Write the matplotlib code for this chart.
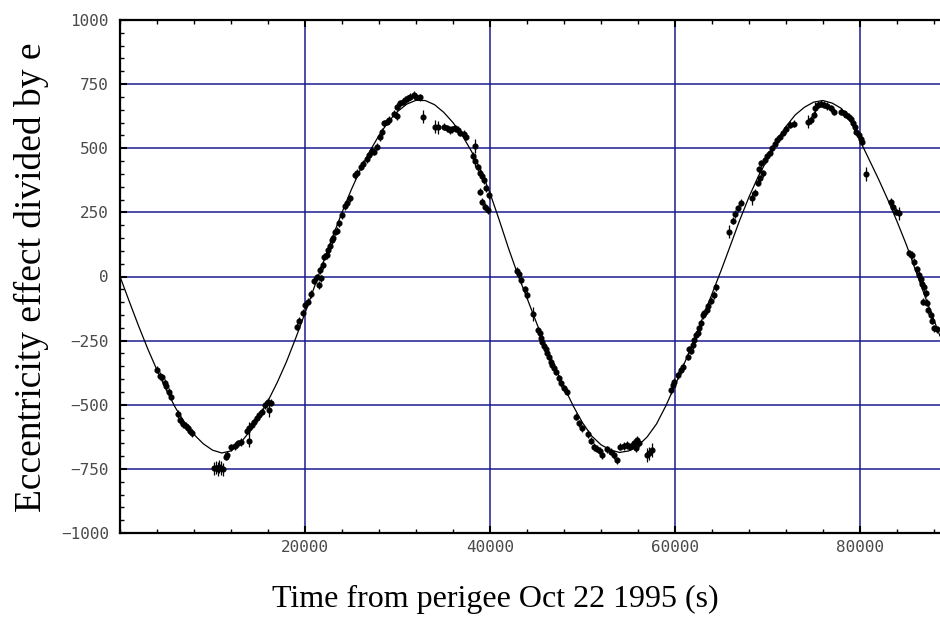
import matplotlib
matplotlib.use("Agg")
import matplotlib.pyplot as plt
from matplotlib.ticker import MultipleLocator

# ---- fitted curve (every 1000 s) ----
curve_t = [0, 1000, 2000, 3000, 4000, 5000, 6000, 7000, 8000, 9000,
           10000, 11000, 12000, 13000, 14000, 15000, 16000, 17000, 18000, 19000,
           20000, 21000, 22000, 23000, 24000, 25000, 26000, 27000, 28000, 29000,
           30000, 31000, 32000, 33000, 34000, 35000, 36000, 37000, 38000, 39000,
           40000, 41000, 42000, 43000, 44000, 45000, 46000, 47000, 48000, 49000,
           50000, 51000, 52000, 53000, 54000, 55000, 56000, 57000, 58000, 59000,
           60000, 61000, 62000, 63000, 64000, 65000, 66000, 67000, 68000, 69000,
           70000, 71000, 72000, 73000, 74000, 75000, 76000, 77000, 78000, 79000,
           80000, 81000, 82000, 83000, 84000, 85000, 86000, 87000, 88000, 88650]
curve_y = [0, -97, -192, -282, -365, -442, -512, -570, -616, -652,
           -677, -688, -680, -650, -605, -550, -485, -413, -332, -240,
           -143, -42, 58, 156, 250, 338, 418, 488, 550, 603,
           643, 672, 687, 686, 670, 640, 600, 550, 488, 415,
           325, 220, 110, 8, -84, -178, -270, -352, -430, -505,
           -570, -622, -656, -676, -686, -680, -660, -625, -575, -505,
           -425, -340, -252, -160, -68, 25, 122, 220, 310, 390,
           458, 525, 585, 630, 660, 680, 686, 676, 655, 605,
           530, 455, 380, 300, 215, 125, 25, -75, -170, -232]

# ---- measured points (time s, value, error) ----
obs_t = [3990, 4360, 4570, 4820, 5010, 5290, 5550, 6270, 6520, 6810, 7100, 7350, 7530, 7790,
         10150, 10350, 10550, 10750, 10950, 11150,
         11440, 11580, 12050, 12410, 12770, 13030, 13960, 13750, 13960, 14220, 14470, 14760,
         15050, 15300, 15660, 16020, 16310, 16130,
         19100, 19380, 19750, 20000, 20360, 20620, 21010, 21270, 21550, 21700, 21630, 21990,
         22100, 22350, 22530, 22710, 22890, 23070, 23250, 23440, 23720, 23980, 24340, 24590,
         24880, 25420, 25670, 26070, 26320, 26690, 26940, 27230, 27480, 27770, 28060, 28310,
         28560, 28860, 29030, 29650, 30000, 29940, 30300, 30590, 30840, 31090, 31380, 31740,
         32030, 32390, 32760, 34090, 34340, 35070, 35360, 35640, 35900, 36260, 36510, 36800,
         37160, 37450, 38430, 38180, 38430, 38680, 38900, 39150, 39330, 39620, 38900, 39150,
         39440, 39760, 39870,
         42870, 43120, 43380, 43740, 44030, 44680, 45180, 45400, 45480, 45660, 45830, 46020,
         46200, 46380, 46560, 46750, 46920, 47100, 47460, 47720, 48000, 48290, 49270, 49630,
         50000, 50600, 50900, 51250, 51550, 51900, 52160, 52700, 53060, 53420, 53710, 54070,
         54440, 54800, 55150, 55410, 55590, 55880, 56130, 55770, 56960, 57210, 57470,
         59560, 59750, 59930, 60290, 60650, 60830, 61370, 61550, 61730, 61910, 62090, 62270,
         62460, 62630, 62820, 63000, 63180, 63470, 63540, 63900, 64200, 64450, 65890, 66250,
         66510, 66860, 67150, 68310, 68600, 68960, 69140, 69030, 69320, 69510, 69680, 69970,
         70220, 70480, 70770, 71060, 71310, 71670, 72030, 72390, 72870, 74390, 74670, 75030,
         75180, 75470, 75750, 76120, 76480, 76840, 77200, 78000, 78290, 78530, 78780, 79000,
         79260, 79440, 79620, 79870, 80090, 80240, 80600, 83340, 83600, 83850, 84210, 85290,
         85580, 85880, 86120, 86370, 86590, 86740, 86960, 87100, 86850, 87210, 87390, 87670,
         87830, 88030, 88280]
obs_y = [-364, -388, -393, -414, -427, -449, -469, -536, -560, -575, -583, -592, -601, -611,
         -748, -745, -750, -742, -747, -752,
         -702, -696, -666, -661, -650, -645, -640, -601, -592, -579, -566, -553,
         -540, -527, -501, -488, -492, -520,
         -196, -172, -141, -111, -98, -68, -16, -3, -33, -7, 25, 45,
         77, 84, 103, 119, 142, 149, 175, 179, 207, 240, 275, 285,
         305, 396, 405, 428, 439, 457, 474, 489, 487, 506, 543, 565,
         597, 604, 610, 634, 626, 662, 675, 682, 688, 695, 701, 708,
         701, 699, 623, 584, 582, 584, 578, 571, 574, 578, 571, 561,
         556, 545, 509, 470, 452, 426, 405, 392, 376, 344, 331, 292,
         272, 259, 318,
         23, 10, -14, -50, -72, -146, -209, -219, -241, -254, -271, -284,
         -300, -313, -332, -345, -358, -371, -397, -416, -436, -449, -547, -572,
         -592, -614, -640, -665, -672, -680, -696, -674, -683, -696, -716, -664,
         -661, -657, -664, -657, -648, -637, -650, -670, -696, -689, -676,
         -443, -423, -410, -384, -365, -352, -313, -284, -289, -267, -248, -228,
         -219, -202, -182, -150, -144, -131, -115, -94, -72, -42, 175, 218,
         244, 266, 288, 305, 327, 366, 383, 418, 441, 402, 454, 470,
         483, 500, 517, 532, 545, 561, 574, 591, 595, 604, 610, 630,
         656, 669, 673, 669, 665, 656, 643, 643, 636, 630, 623, 613,
         597, 584, 565, 552, 535, 526, 400, 292, 272, 253, 246, 90,
         84, 58, 28, 6, -11, -29, -42, -66, -98, -102, -131, -150,
         -172, -202, -206]
big_err = {10150, 10350, 10550, 10750, 10950, 11150, 13960, 16130, 32760, 34090, 34340,
           38430, 44680, 56960, 57210, 57470, 65890, 68310, 74390, 75180, 80600, 84210}
obs_err = [26 if (t in big_err) else 14 for t in obs_t]

y_ticks = [-1000, -750, -500, -250, 0, 250, 500, 750, 1000]
x_ticks = [20000, 40000, 60000, 80000]

xlabel = "Time from perigee Oct 22 1995 (s)"
ylabel = "Eccentricity effect divided by e"

fig = plt.figure(figsize=(9.4, 6.22), dpi=100)
ax = fig.add_axes([120 / 940, 89 / 622, 820 / 940, 513 / 622])

grid_c = "#1c1c90"
for yv in y_ticks[1:-1]:
    ax.axhline(yv, color=grid_c, lw=1.1, zorder=1)
for xv in x_ticks:
    ax.axvline(xv, color=grid_c, lw=1.1, zorder=1)

ax.plot(curve_t, curve_y, color="black", lw=0.9, zorder=3)
ax.errorbar(obs_t, obs_y, yerr=obs_err, fmt="o", ms=3.4, color="black",
            ecolor="black", elinewidth=0.9, capsize=0, zorder=4)

ax.set_xlim(0, 88650)
ax.set_ylim(-1000, 1000)
ax.set_xticks(x_ticks)
ax.set_yticks(y_ticks)
ax.xaxis.set_minor_locator(MultipleLocator(4000))
ax.yaxis.set_minor_locator(MultipleLocator(50))

tick_font = dict(family="DejaVu Sans Mono", size=11.5)
ax.set_xticklabels([str(v) for v in x_ticks], color="#4a4a4a", **tick_font)
ax.set_yticklabels([str(v).replace("-", "\u2212") for v in y_ticks], color="#4a4a4a", **tick_font)

ax.tick_params(axis="both", which="both", direction="in", color="black")
ax.tick_params(axis="x", which="both", top=True, bottom=True)
ax.tick_params(axis="y", which="both", left=True, right=False)
ax.tick_params(which="major", length=5, width=1.5)
ax.tick_params(which="minor", length=3, width=1.0)
ax.tick_params(axis="x", which="major", pad=5)
ax.tick_params(axis="y", which="major", pad=8)

for side in ["left", "bottom", "top"]:
    ax.spines[side].set_linewidth(1.6)
    ax.spines[side].set_color("black")
ax.spines["right"].set_visible(False)

fig.text(495 / 940, 1 - 599 / 622, xlabel, family="Liberation Serif", size=23,
         ha="center", va="center")
fig.text(31 / 940, 1 - 277 / 622, ylabel, family="Liberation Serif", size=27,
         ha="center", va="center", rotation=90)

fig.savefig("out.png", dpi=100)
